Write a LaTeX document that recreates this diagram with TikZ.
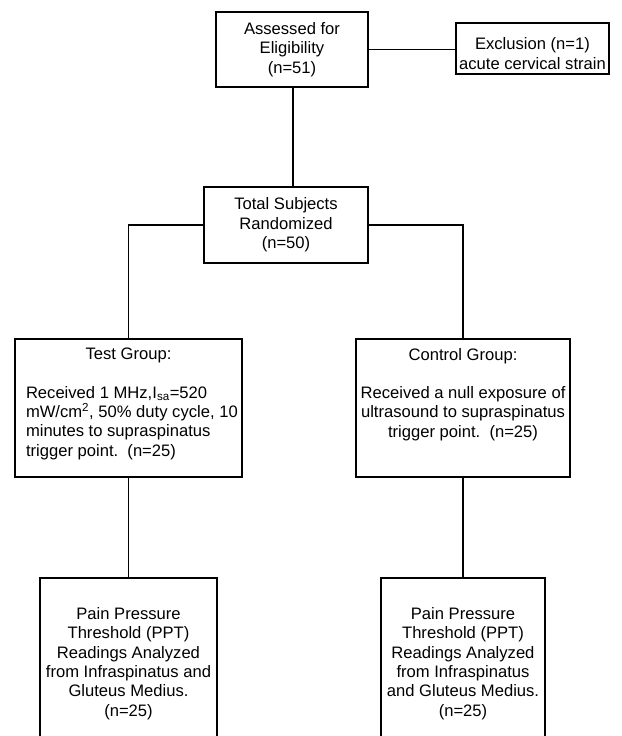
\documentclass[tikz,border=0pt]{standalone}
\usepackage{fontspec}
\setmainfont{Liberation Sans}
\begin{document}
\begin{tikzpicture}[x=1pt,y=-1pt,
  every node/.style={font=\fontsize{16.6}{19.3}\selectfont},
  box/.style={draw, line width=1.3pt, inner sep=0pt, align=center},
  conn/.style={line width=1.3pt}]
\useasboundingbox (0,0) rectangle (621,736);
\node[box, minimum width=152pt, minimum height=75pt] (A) at (292,49.5) {Assessed for\\Eligibility\\(n=51)};
\node[box] (E) at (532.5,48.5) {\parbox[c][51pt][c]{153pt}{\vspace*{10pt}\centering Exclusion (n=1)\\acute cervical strain\par}};
\node[box, minimum width=164pt, minimum height=76pt] (T) at (286,225) {Total Subjects\\Randomized\\(n=50)};
\node[box] (G1) at (128.5,408) {\parbox[c][138pt][t]{227pt}{\vspace*{9pt}\centering Test Group:\par\vspace{19.3pt}\raggedright\leftskip=11pt Received 1 MHz,I\textsubscript{sa}=520\\mW/cm\textsuperscript{2}, 50\% duty cycle, 10\\minutes to supraspinatus\\trigger point.\ \ (n=25)\par}};
\node[box] (G2) at (463,408) {\parbox[c][138pt][t]{214pt}{\vspace*{9pt}\centering Control Group:\par\vspace{19.3pt}Received a null exposure of\\ultrasound to supraspinatus\\trigger point.\ \ (n=25)\par}};
\node[box, minimum width=177pt, minimum height=171pt] (P1) at (128.5,663.5) {Pain Pressure\\Threshold (PPT)\\Readings Analyzed\\from Infraspinatus and\\Gluteus Medius.\\(n=25)};
\node[box, minimum width=164pt, minimum height=171pt] (P2) at (463,663.5) {Pain Pressure\\Threshold (PPT)\\Readings Analyzed\\from Infraspinatus\\and Gluteus Medius.\\(n=25)};
\draw[conn] (A.east) -- (A.east -| E.west);
\draw[conn] ([xshift=1pt]A.south) -- ([xshift=1pt]A.south |- T.north);
\draw[conn] (T.west) -| (G1.north);
\draw[conn] (T.east) -| (G2.north);
\draw[conn] (G1.south) -- (P1.north);
\draw[conn] (G2.south) -- (P2.north);
\end{tikzpicture}
\end{document}
